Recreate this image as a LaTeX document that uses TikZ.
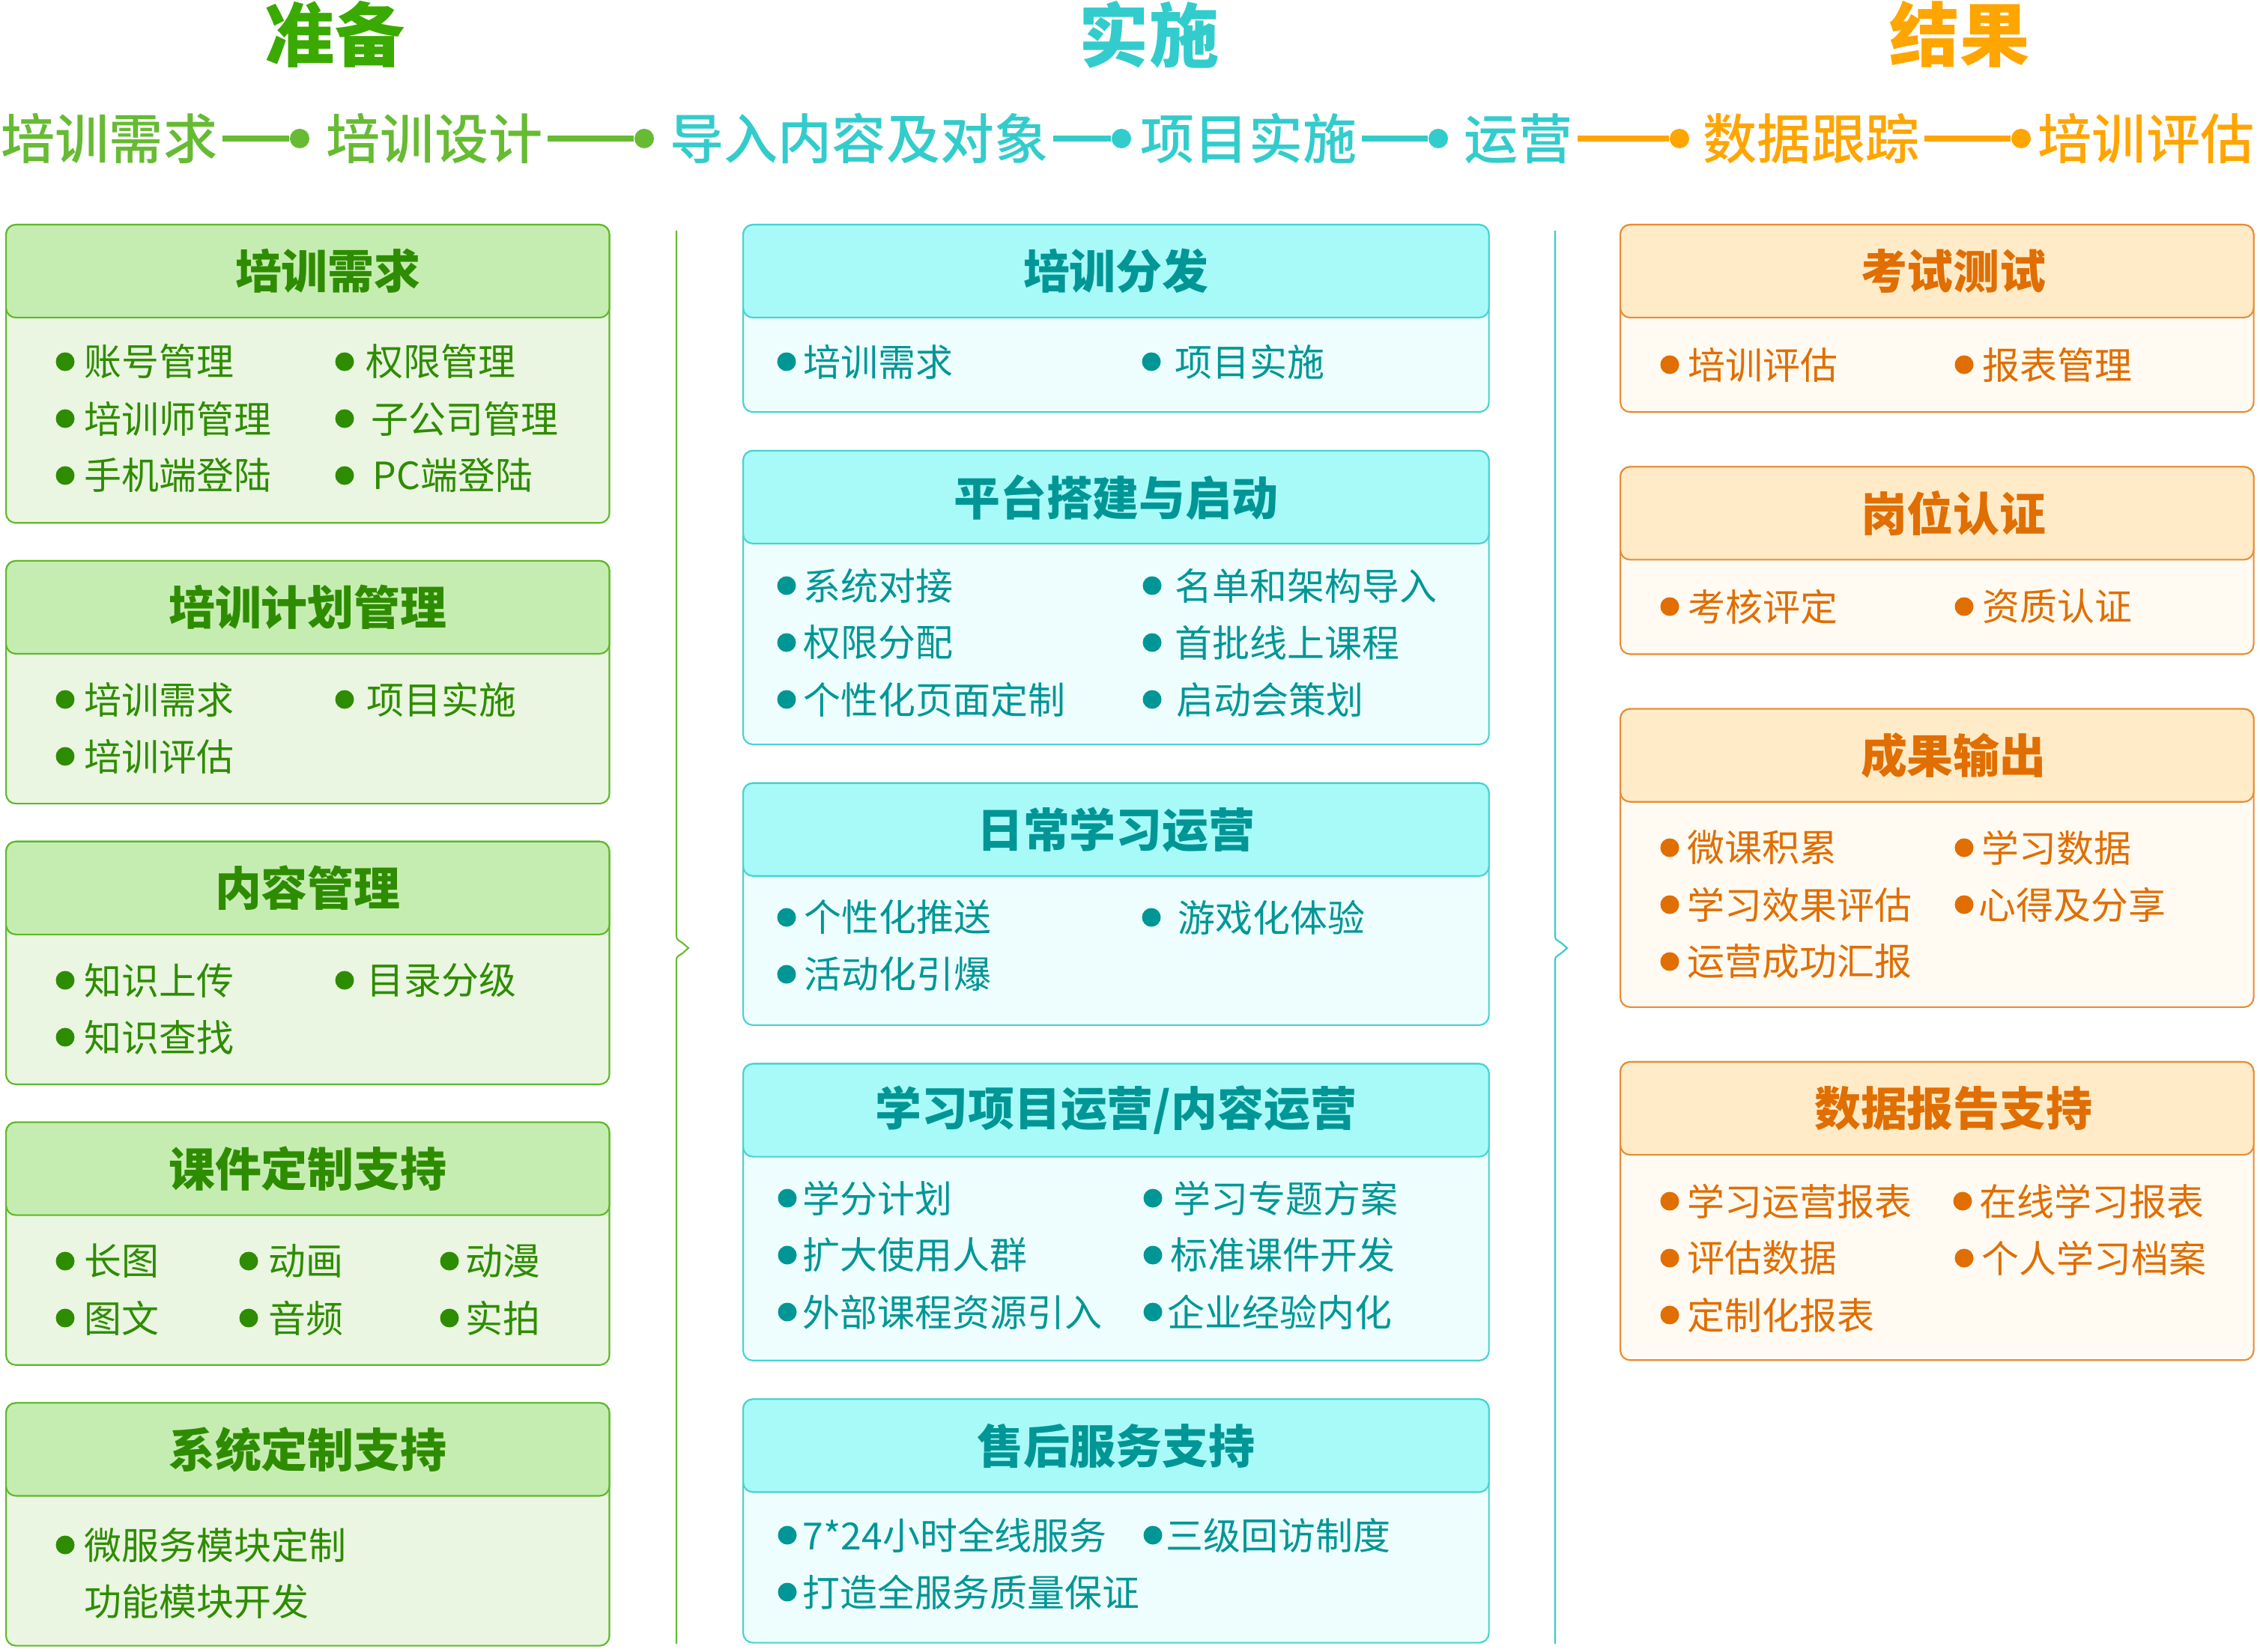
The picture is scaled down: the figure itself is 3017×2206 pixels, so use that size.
\documentclass[tikz,border=0pt]{standalone}
\usepackage{fontspec}
\setmainfont{Noto Sans CJK SC}
\newfontfamily\stagefont{Noto Sans CJK SC Medium}
\usetikzlibrary{positioning}
\definecolor{gtitle}{HTML}{3AAA00}
\definecolor{gstage}{HTML}{66BB33}
\definecolor{cstage}{HTML}{33CCCC}
\definecolor{ostage}{HTML}{FFA500}
\definecolor{gfill}{HTML}{C6EDB1}
\definecolor{gback}{HTML}{EAF6E1}
\definecolor{gedge}{HTML}{5CB928}
\definecolor{gtext}{HTML}{2E8C00}
\definecolor{cfill}{HTML}{A8FAF8}
\definecolor{cback}{HTML}{EEFEFE}
\definecolor{cedge}{HTML}{46D2D2}
\definecolor{ctext}{HTML}{009696}
\definecolor{ofill}{HTML}{FFEBC8}
\definecolor{oback}{HTML}{FFFAF2}
\definecolor{oedge}{HTML}{E88C32}
\definecolor{otext}{HTML}{E06E00}
\tikzset{
  title/.style={inner sep=0, font=\fontsize{26.5}{30}\selectfont\bfseries},
  stage/.style={inner sep=0.06cm, font=\fontsize{20.5}{24}\stagefont},
  stagedot/.style={circle, inner sep=0, minimum size=0.26cm},
  link/.style={line width=2pt},
  brace/.style={line width=0.6pt},
  panel/.style={rectangle, rounded corners=0.13cm, line width=0.6pt, anchor=north west},
  head/.style={panel, anchor=north, minimum height=1.24cm, font=\fontsize{17.6}{20}\selectfont\bfseries},
  item/.style={anchor=west, inner sep=0, font=\fontsize{14.2}{17}\selectfont},
  gbody/.style={panel, draw=gedge, fill=gback, minimum width=8.05cm},
  ghead/.style={head, draw=gedge, fill=gfill, text=gtext, minimum width=8.05cm},
  gitem/.style={item, text=gtext},
  cbody/.style={panel, draw=cedge, fill=cback, minimum width=9.95cm},
  chead/.style={head, draw=cedge, fill=cfill, text=ctext, minimum width=9.95cm},
  citem/.style={item, text=ctext},
  obody/.style={panel, draw=oedge, fill=oback, minimum width=8.45cm},
  ohead/.style={head, draw=oedge, fill=ofill, text=otext, minimum width=8.45cm,
    execute at begin node={\hspace{0.44cm}}},
  oitem/.style={item, text=otext}
}
\begin{document}
\begin{tikzpicture}[x=0.01cm, y=-0.01cm]
\useasboundingbox (0,0) rectangle (3017,2206);
% phases
\node[title, text=gtitle] (zb) at (447,46) {准备};
\node[title, text=cstage] (ss) at (1534,46) {实施};
\node[title, text=ostage] (jg) at (2616,46) {结果};
% steps
\node[stage, text=gstage] (s1) at (146,185) {培训需求};
\node[stage, text=gstage] (s2) at (580,185) {培训设计};
\node[stage, text=cstage] (s3) at (1147,185) {导入内容及对象};
\node[stage, text=cstage] (s4) at (1667,185) {项目实施};
\node[stage, text=cstage] (s5) at (2027,185) {运营};
\node[stage, text=ostage] (s6) at (2418,185) {数据跟踪};
\node[stage, text=ostage] (s7) at (2865,185) {培训评估};
\node[stagedot, fill=gstage] (d1) at (400,185) {};
\node[stagedot, fill=gstage] (d2) at (860,185) {};
\node[stagedot, fill=cstage] (d3) at (1497,185) {};
\node[stagedot, fill=cstage] (d4) at (1920,185) {};
\node[stagedot, fill=ostage] (d5) at (2242,185) {};
\node[stagedot, fill=ostage] (d6) at (2698,185) {};
\draw[link, gstage] (s1) -- (d1);
\draw[link, gstage] (s2) -- (d2);
\draw[link, cstage] (s3) -- (d3);
\draw[link, cstage] (s4) -- (d4);
\draw[link, ostage] (s5) -- (d5);
\draw[link, ostage] (s6) -- (d6);
% braces
\draw[brace, gstage] (903,308) -- (903,1248) .. controls (903,1254) .. (911,1259)
  -- (919,1266) -- (911,1273) .. controls (903,1278) .. (903,1284) -- (903,2195);
\draw[brace, cstage] (2076,308) -- (2076,1248) .. controls (2076,1254) .. (2084,1259)
  -- (2092,1266) -- (2084,1273) .. controls (2076,1278) .. (2076,1284) -- (2076,2195);
% left column
\node[gbody, minimum height=3.98cm] (xq) at (7,299) {};
\node[gbody, minimum height=3.24cm, below=0.485cm of xq] (jh) {};
\node[gbody, minimum height=3.24cm, below=0.485cm of jh] (nr) {};
\node[gbody, minimum height=3.24cm, below=0.485cm of nr] (kj) {};
\node[gbody, minimum height=3.24cm, below=0.485cm of kj] (xt) {};
\node[ghead] (xqh) at (xq.north) {\hspace{0.54cm}培训需求};
\node[ghead] (jhh) at (jh.north) {培训计划管理};
\node[ghead] (nrh) at (nr.north) {内容管理};
\node[ghead] (kjh) at (kj.north) {课件定制支持};
\node[ghead] (xth) at (xt.north) {系统定制支持};
\foreach \dx/\x/\y/\txt [count=\i] in {87/112/483/账号管理, 87/112/559/培训师管理,
    87/112/635/手机端登陆, 460/488/483/权限管理, 460/495/559/子公司管理,
    460/497/635/PC端登陆, 87/112/934/培训需求, 87/112/1010/培训评估,
    460/489/934/项目实施, 87/112/1309/知识上传, 87/112/1385/知识查找,
    460/489/1309/目录分级, 87/112/1684/长图, 87/112/1760/图文,
    332/358/1684/动画, 332/358/1760/音频, 600/621/1684/动漫, 600/621/1760/实拍,
    87/112/2063/微服务模块定制} {
  \fill[gtext] (\dx,\y) circle [radius=12.5];
  \node[gitem] (g\i) at (\x,\y) {\txt};
}
\node[gitem] (g20) at (112,2139) {功能模块开发};
% middle column
\node[cbody, minimum height=2.50cm] (fb) at (991,299) {};
\node[cbody, minimum height=3.92cm, below=0.495cm of fb] (pt) {};
\node[cbody, minimum height=3.23cm, below=0.495cm of pt] (rc) {};
\node[cbody, minimum height=3.96cm, below=0.495cm of rc] (xx) {};
\node[cbody, minimum height=3.25cm, below=0.495cm of xx] (sh) {};
\node[chead] (fbh) at (fb.north) {培训分发};
\node[chead] (pth) at (pt.north) {平台搭建与启动};
\node[chead] (rch) at (rc.north) {日常学习运营};
\node[chead] (xxh) at (xx.north) {学习项目运营/内容运营};
\node[chead] (shh) at (sh.north) {售后服务支持};
\foreach \dx/\x/\y/\txt [count=\i] in {1050/1072/483/培训需求, 1537/1568/483/项目实施,
    1050/1072/782/系统对接, 1050/1072/858/权限分配, 1050/1072/934/个性化页面定制,
    1538/1568/782/名单和架构导入, 1538/1568/858/首批线上课程, 1538/1570/934/启动会策划,
    1050/1073/1225/个性化推送, 1050/1073/1301/活动化引爆, 1537/1572/1225/游戏化体验,
    1051/1071/1600/学分计划, 1051/1071/1676/扩大使用人群, 1051/1071/1752/外部课程资源引入,
    1539/1566/1600/学习专题方案, 1539/1562/1676/标准课件开发, 1539/1558/1752/企业经验内化,
    1051/1071/2050/7*24小时全线服务, 1051/1071/2126/打造全服务质量保证,
    1539/1556/2050/三级回访制度} {
  \fill[ctext] (\dx,\y) circle [radius=12.5];
  \node[citem] (c\i) at (\x,\y) {\txt};
}
% right column
\node[obody, minimum height=2.50cm] (ks) at (2162,299) {};
\node[obody, minimum height=2.50cm, below=0.71cm of ks] (gw) {};
\node[obody, minimum height=3.98cm, below=0.71cm of gw] (cg) {};
\node[obody, minimum height=3.98cm, below=0.71cm of cg] (sj) {};
\node[ohead] (ksh) at (ks.north) {考试测试};
\node[ohead] (gwh) at (gw.north) {岗位认证};
\node[ohead] (cgh) at (cg.north) {成果输出};
\node[ohead] (sjh) at (sj.north) {数据报告支持};
\foreach \dx/\x/\y/\txt [count=\i] in {2229/2253/487/培训评估, 2622/2646/487/报表管理,
    2229/2253/810/考核评定, 2622/2646/810/资质认证,
    2229/2252/1132/微课积累, 2229/2252/1208/学习效果评估, 2229/2252/1284/运营成功汇报,
    2622/2645/1132/学习数据, 2622/2641/1208/心得及分享,
    2229/2252/1604/学习运营报表, 2229/2252/1680/评估数据, 2229/2252/1756/定制化报表,
    2620/2642/1604/在线学习报表, 2622/2645/1680/个人学习档案} {
  \fill[otext] (\dx,\y) circle [radius=12.5];
  \node[oitem] (o\i) at (\x,\y) {\txt};
}
\end{tikzpicture}
\end{document}
